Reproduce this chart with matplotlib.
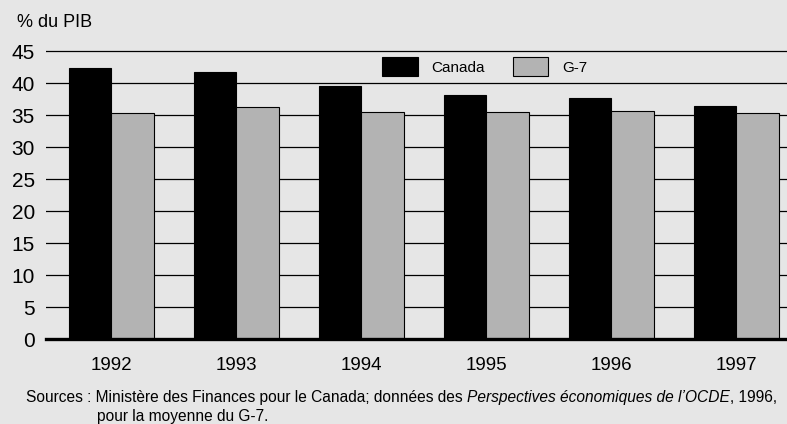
import numpy as np
import matplotlib.pyplot as plt

# data (% du PIB)
years = ["1992", "1993", "1994", "1995", "1996", "1997"]
canada = [42.3, 41.7, 39.6, 38.2, 37.6, 36.4]
g7 = [35.4, 36.2, 35.5, 35.5, 35.6, 35.4]
yticks = [0, 5, 10, 15, 20, 25, 30, 35, 40, 45]

bg = "#e6e6e6"
plt.rcParams["font.family"] = ["Liberation Sans", "DejaVu Sans"]

fig = plt.figure(figsize=(7.87, 4.24), dpi=100, facecolor=bg)
ax = fig.add_axes([0.0585, 0.1998, 1 - 0.0585, 0.695])
ax.set_facecolor(bg)

x = np.arange(len(years))
w = 0.34
ax.bar(x - w / 2, canada, w, color="black", edgecolor="black", linewidth=0.8, label="Canada", zorder=3)
ax.bar(x + w / 2, g7, w, color="#b3b3b3", edgecolor="black", linewidth=0.8, label="G-7", zorder=3)

ax.set_xlim(-0.52, 5.408)
ax.set_ylim(0, 46)
ax.set_yticks(yticks)
ax.set_xticks(x)
ax.set_xticklabels(years)
ax.tick_params(axis="y", length=0, pad=8, labelsize=15)
ax.tick_params(axis="x", length=0, pad=13, labelsize=13.5)

for v in yticks[1:]:
    ax.axhline(v, color="black", linewidth=0.9, zorder=1)

for s in ["top", "right", "left"]:
    ax.spines[s].set_visible(False)
ax.spines["bottom"].set_linewidth(2.4)
ax.spines["bottom"].set_zorder(4)

leg = fig.legend(loc="center left", bbox_to_anchor=(0.486, 0.843), ncol=2, frameon=False,
                 fontsize=11, handlelength=2.3, handleheight=1.5, handletextpad=0.9,
                 columnspacing=1.85, borderpad=0, borderaxespad=0)

fig.text(17 / 787, 1 - 27 / 424, "% du PIB", fontsize=13, ha="left", va="baseline")

# source note, with the italic title in the middle
fs = 11.2
t1 = fig.text(26 / 787, 1 - 401.7 / 424, "Sources : Ministère des Finances pour le Canada; données des ",
              fontsize=fs, ha="left", va="baseline")
t2 = ax.annotate("Perspectives économiques de l\u2019OCDE", xy=(1, 0), xycoords=t1,
                 fontsize=fs, style="italic", ha="left", va="bottom", annotation_clip=False)
t3 = ax.annotate(", 1996,", xy=(1, 0), xycoords=t2,
                 fontsize=fs, ha="left", va="bottom", annotation_clip=False)
fig.text(97 / 787, 1 - 420.7 / 424, "pour la moyenne du G-7.", fontsize=fs, ha="left", va="baseline")

fig.savefig("out.png", dpi=100, facecolor=bg)
